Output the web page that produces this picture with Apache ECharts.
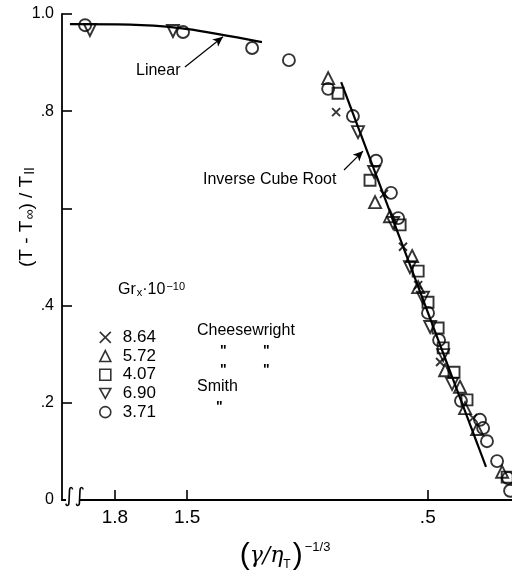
<!DOCTYPE html>
<html><head><meta charset="utf-8">
<script src="https://cdn.jsdelivr.net/npm/echarts@6/dist/echarts.min.js"></script>
<style>html,body{margin:0;padding:0;background:#fff}#c{width:512px;height:577px}</style>
</head><body><div id="c"></div>
<script>
// ---- data ----
const xTicks = [1.8, 1.5, 0.5];
const yTicks = [0, 0.2, 0.4, 0.6, 0.8, 1.0];
const seriesNames = ['8.64', '5.72', '4.07', '6.90', '3.71'];

const xCross = [0.881, 0.682, 0.603, 0.540, 0.449, 0.312];
const yCross = [0.798, 0.630, 0.521, 0.442, 0.284, 0.169];

const xTriUp = [0.914, 0.719, 0.657, 0.565, 0.540, 0.428, 0.366, 0.345, 0.295, 0.191];
const yTriUp = [0.868, 0.613, 0.584, 0.502, 0.438, 0.267, 0.233, 0.189, 0.146, 0.058];

const xSquare = [0.873, 0.740, 0.615, 0.540, 0.499, 0.457, 0.436, 0.391, 0.337, 0.170];
const ySquare = [0.837, 0.658, 0.566, 0.471, 0.407, 0.354, 0.313, 0.263, 0.206, 0.047];

const xTriDown = [1.904, 1.559, 0.790, 0.723, 0.644, 0.574, 0.520, 0.490, 0.436, 0.399];
const yTriDown = [0.967, 0.965, 0.757, 0.675, 0.570, 0.479, 0.416, 0.356, 0.298, 0.239];

const xCircle = [1.924, 1.517, 1.230, 1.077, 0.914, 0.811, 0.715, 0.653, 0.623, 0.499, 0.453, 0.362, 0.283, 0.270, 0.254, 0.212, 0.166, 0.158];
const yCircle = [0.977, 0.963, 0.930, 0.905, 0.846, 0.790, 0.698, 0.632, 0.580, 0.385, 0.329, 0.204, 0.165, 0.148, 0.121, 0.080, 0.045, 0.019];

const linearX = [1.987, 1.737, 1.530, 1.376, 1.189];
const linearY = [0.979, 0.978, 0.971, 0.959, 0.942];

const cubeX = [0.860, 0.258];
const cubeY = [0.860, 0.068];

const linearArrow = [[1.509, 0.891], [1.351, 0.953]];
const cubeArrow = [[0.848, 0.679], [0.769, 0.718]];
// ---- end data ----

const zip = (a, b) => a.map((v, i) => [v, b[i]]);
const FONT = 'Liberation Sans, Arial, sans-serif';
const hollow = { color: 'rgba(0,0,0,0)', borderColor: '#000', borderWidth: 1.9 };
const CROSS = 'path://M0,0L10,10M10,0L0,10';
const TRI_DOWN = 'path://M0,0L10,0L5,9Z';

function sc(name, xs, ys, symbol, size, rot) {
  return {
    name, type: 'scatter', data: zip(xs, ys), symbol, symbolSize: size,
    symbolRotate: rot || 0, itemStyle: hollow, clip: false, z: 3,
    emphasis: { disabled: true }
  };
}

const chart = echarts.init(document.getElementById('c'), null, { renderer: 'canvas' });
chart.setOption({
  animation: false,
  backgroundColor: '#fff',
  textStyle: { fontFamily: FONT, color: '#000' },
  grid: { left: 62, right: 0, top: 14, bottom: 77, containLabel: false },
  xAxis: {
    type: 'value', inverse: true, min: 0.15, max: 2.02,
    axisLine: { onZero: false, lineStyle: { color: '#000', width: 1.8 } },
    axisTick: { inside: true, length: 10, customValues: xTicks, lineStyle: { color: '#000', width: 1.6 } },
    axisLabel: { customValues: xTicks, fontSize: 19, color: '#000', margin: 8, fontFamily: FONT,
      formatter: v => (v < 1 ? String(v).replace(/^0/, '') : v.toFixed(1)) },
    splitLine: { show: false }
  },
  yAxis: {
    type: 'value', min: 0, max: 1, interval: 0.2,
    axisLine: { onZero: false, lineStyle: { color: '#000', width: 1.8 } },
    axisTick: { inside: true, length: 10, lineStyle: { color: '#000', width: 1.6 } },
    axisLabel: { fontSize: 16, color: '#000', margin: 8, fontFamily: FONT,
      formatter: v => {
        if (Math.abs(v) < 1e-9) return '0';
        if (Math.abs(v - 1) < 1e-9) return '1.0';
        if (Math.abs(v - 0.6) < 1e-9) return '';
        return String(+v.toFixed(1)).replace(/^0/, '');
      } },
    splitLine: { show: false }
  },
  legend: {
    data: seriesNames.map(n => (n === '6.90' ? { name: n, icon: TRI_DOWN } : { name: n })),
    orient: 'vertical', left: 94, top: 323,
    itemWidth: 11, itemHeight: 11, itemGap: 0,
    itemStyle: { borderWidth: 1.6 },
    textStyle: { fontSize: 17, color: '#000', fontFamily: FONT, lineHeight: 18.7, padding: [0, 0, 0, 7] },
    selectedMode: false
  },
  series: [
    sc('8.64', xCross, yCross, CROSS, 8),
    sc('5.72', xTriUp, yTriUp, 'triangle', 12),
    sc('4.07', xSquare, ySquare, 'rect', 11),
    sc('6.90', xTriDown, yTriDown, 'triangle', 12, 180),
    sc('3.71', xCircle, yCircle, 'circle', 12),
    {
      name: 'Linear', type: 'line', data: zip(linearX, linearY), smooth: 0.4, showSymbol: false,
      lineStyle: { color: '#000', width: 2.2 }, z: 2, silent: true,
      markLine: { silent: true, symbol: ['none', 'arrow'], symbolSize: [7, 10],
        lineStyle: { color: '#000', width: 1.2, type: 'solid' }, label: { show: false },
        data: [[{ coord: linearArrow[0] }, { coord: linearArrow[1] }]] }
    },
    {
      name: 'Inverse Cube Root', type: 'line', data: zip(cubeX, cubeY), showSymbol: false,
      lineStyle: { color: '#000', width: 2.2 }, z: 2, silent: true,
      markLine: { silent: true, symbol: ['none', 'arrow'], symbolSize: [7, 10],
        lineStyle: { color: '#000', width: 1.2, type: 'solid' }, label: { show: false },
        data: [[{ coord: cubeArrow[0] }, { coord: cubeArrow[1] }]] }
    }
  ],
  graphic: [
    { type: 'text', left: 136, top: 63, style: { text: 'Linear', fontSize: 16, fill: '#000', fontFamily: FONT } },
    { type: 'text', left: 203, top: 172, style: { text: 'Inverse Cube Root', fontSize: 16, fill: '#000', fontFamily: FONT } },
    // legend header
    { type: 'text', left: 118, top: 281, style: {
      text: '{a|Gr}{s|x}{a|·10}{p|−10}', fill: '#000',
      rich: { a: { fontSize: 16, fontFamily: FONT, verticalAlign: 'middle' },
              s: { fontSize: 11, fontFamily: FONT, verticalAlign: 'bottom', padding: [6, 0, 0, 1] },
              p: { fontSize: 11, fontFamily: FONT, verticalAlign: 'top', padding: [0, 0, 6, 1] } } } },
    // legend source column
    { type: 'text', left: 197, top: 323, style: { text: 'Cheesewright', fontSize: 16, fill: '#000', fontFamily: FONT } },
    { type: 'text', left: 220, top: 344, style: { text: '"', fontSize: 14, fontWeight: 'bold', fill: '#000', fontFamily: FONT } },
    { type: 'text', left: 263, top: 344, style: { text: '"', fontSize: 14, fontWeight: 'bold', fill: '#000', fontFamily: FONT } },
    { type: 'text', left: 220, top: 363, style: { text: '"', fontSize: 14, fontWeight: 'bold', fill: '#000', fontFamily: FONT } },
    { type: 'text', left: 263, top: 363, style: { text: '"', fontSize: 14, fontWeight: 'bold', fill: '#000', fontFamily: FONT } },
    { type: 'text', left: 197, top: 379, style: { text: 'Smith', fontSize: 16, fill: '#000', fontFamily: FONT } },
    { type: 'text', left: 216, top: 400, style: { text: '"', fontSize: 14, fontWeight: 'bold', fill: '#000', fontFamily: FONT } },
    // y-axis title
    { type: 'text', x: 27, y: 217, rotation: Math.PI / 2, style: {
      text: '{a|(T - T}{s|∞}{a|) / T}{s|II}', fill: '#000', align: 'center', verticalAlign: 'middle',
      rich: { a: { fontSize: 19, fontFamily: FONT, verticalAlign: 'middle' },
              s: { fontSize: 14, fontFamily: FONT, verticalAlign: 'bottom', padding: [6, 0, 0, 1] } } } },
    // x-axis title
    { type: 'text', x: 285, y: 556, style: {
      text: '{p|(}{g|γ/η}{s|T}{p|)}{e|−1/3}', fill: '#000', align: 'center', verticalAlign: 'middle',
      rich: { p: { fontSize: 30, fontFamily: FONT, verticalAlign: 'middle' },
              g: { fontSize: 22, fontFamily: 'DejaVu Serif', fontStyle: 'italic', verticalAlign: 'middle' },
              s: { fontSize: 12, fontFamily: FONT, verticalAlign: 'bottom', padding: [10, 2, 0, 0] },
              e: { fontSize: 13, fontFamily: FONT, verticalAlign: 'top', padding: [0, 0, 16, 2] } } } },
    // axis break
    { type: 'rect', left: 66, top: 496, shape: { width: 14, height: 8 }, style: { fill: '#fff' }, z: 100 },
    { type: 'text', left: 64, top: 487, z: 101, style: { text: '∫∫', fontSize: 20, fill: '#000', fontFamily: 'DejaVu Sans' } }
  ]
});
</script>
</body></html>
